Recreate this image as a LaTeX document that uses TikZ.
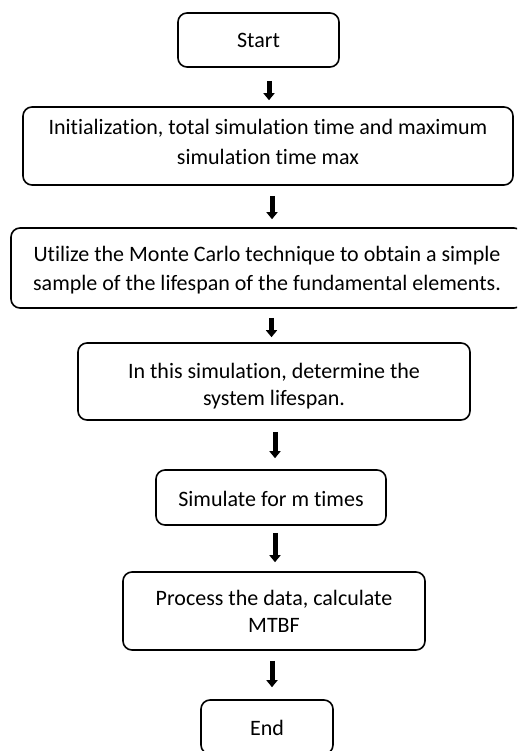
\documentclass[tikz,border=0pt]{standalone}
\usepackage{fontspec}
\setmainfont{Carlito}[Ligatures={NoCommon}]
\usetikzlibrary{arrows.meta}
\tikzset{
  box/.style={draw, line width=1.6pt, rounded corners=9pt, inner sep=0pt},
  txt/.style={align=center, inner sep=0pt, anchor=base, font=\fontsize{22}{25.5}\selectfont},
  arr/.style={line width=5pt, -{Triangle[width=11pt,length=7pt]}}
}
\begin{document}
\begin{tikzpicture}[x=1pt,y=1pt]
\useasboundingbox (0,0) rectangle (517,-751);
\clip (0,0) rectangle (517,-751);
\node[box, minimum width=161pt, minimum height=54pt] (n1) at (258.5,-40) {};
\node[box, minimum width=490pt, minimum height=78pt] (n2) at (268,-146) {};
\node[box, minimum width=512pt, minimum height=80pt] (n3) at (267,-268) {};
\node[box, minimum width=392pt, minimum height=77pt] (n4) at (274,-381.5) {};
\node[box, minimum width=230pt, minimum height=55pt] (n5) at (271,-497.5) {};
\node[box, minimum width=302pt, minimum height=78pt] (n6) at (274,-611) {};
\node[box, minimum width=132pt, minimum height=54pt] (n7) at (267,-727) {};
% anchor=base of a multi-line node is the baseline of its last line
\node[txt] (t1) at (258.5,-48) {Start};
\node[txt] (t2) at (268,-165) {Initialization, total simulation time and maximum\\[4.5pt]simulation time max};
\node[txt] (t3) at (267,-290) {Utilize the Monte Carlo technique to obtain a simple\\[3pt]sample of the lifespan of the fundamental elements.};
\node[txt] (t4) at (274,-405) {In this simulation, determine the\\[1.5pt]system lifespan.};
\node[txt] (t5) at (271,-506) {Simulate for m times};
\node[txt] (t6) at (274,-632) {Process the data, calculate\\[1pt]MTBF};
\node[txt] (t7) at (267,-735) {End};
\draw[arr] ([xshift=10.5pt,yshift=-13pt]n1.south) -- ([xshift=1pt,yshift=6pt]n2.north);
\draw[arr] ([xshift=4pt,yshift=-10pt]n2.south) -- ([xshift=5pt,yshift=8pt]n3.north);
\draw[arr] ([xshift=4.5pt,yshift=-9pt]n3.south) -- ([xshift=-2.5pt,yshift=5pt]n4.north);
\draw[arr] ([xshift=1pt,yshift=-11pt]n4.south) -- ([xshift=4pt,yshift=11pt]n5.north);
\draw[arr] ([xshift=4pt,yshift=-7pt]n5.south) -- ([xshift=1pt,yshift=9pt]n6.north);
\draw[arr] ([xshift=-2pt,yshift=-10pt]n6.south) -- ([xshift=5pt,yshift=12pt]n7.north);
\end{tikzpicture}
\end{document}
